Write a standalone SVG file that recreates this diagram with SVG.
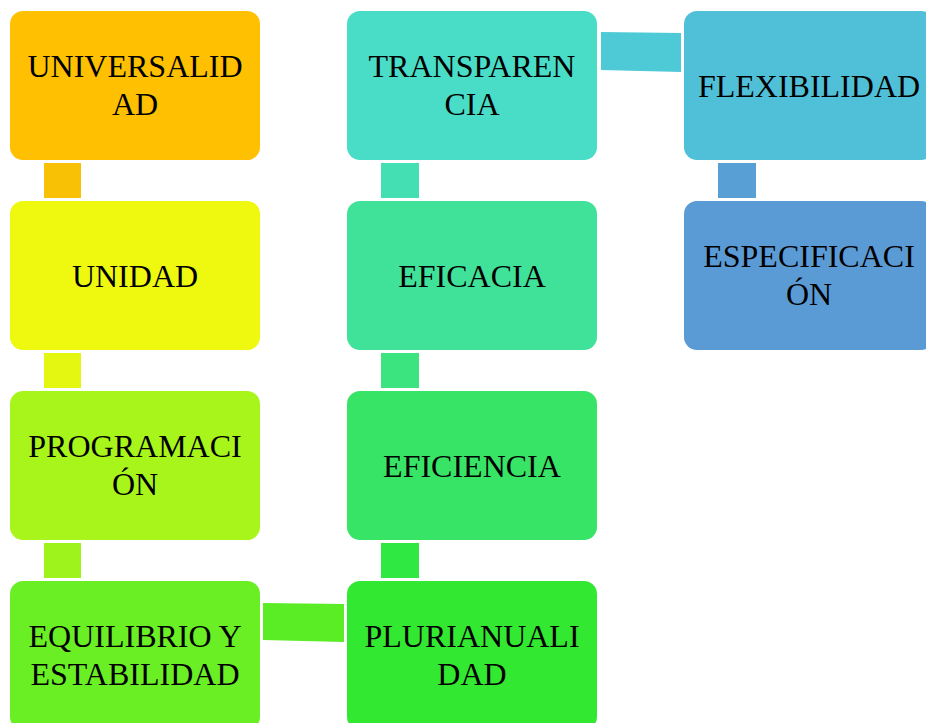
<svg xmlns="http://www.w3.org/2000/svg" width="926" height="723" viewBox="0 0 926 723">
<style>
.box{stroke:none}
.t{font-family:"Liberation Serif","Times New Roman",serif;font-size:32px;fill:#000;text-anchor:middle}
</style>
<rect width="926" height="723" fill="#fff"/>
<g id="connectors">
<rect x="44" y="163" width="37" height="35" fill="#F9C106"/>
<rect x="44" y="353" width="37" height="35" fill="#E4F711"/>
<rect x="44" y="543" width="37" height="35" fill="#9EF31D"/>
<polygon points="263,603 344,604 344,642 263,640" fill="#5AED26"/>
<rect x="381" y="543" width="38" height="35" fill="#30E842"/>
<rect x="381" y="353" width="38" height="35" fill="#3BE47E"/>
<rect x="381" y="163" width="38" height="35" fill="#45DFB4"/>
<polygon points="601,32 681,33 681,72 601,70" fill="#4ECAD6"/>
<rect x="718" y="163" width="38" height="35" fill="#589FD5"/>
</g>
<g id="n1"><rect class="box" x="10" y="11" width="250" height="149" rx="13" fill="#FEC000"/>
<text class="t" x="135" y="77">UNIVERSALID</text><text class="t" x="135" y="115">AD</text></g>
<g id="n2"><rect class="box" x="10" y="201" width="250" height="149" rx="13" fill="#EEF90F"/>
<text class="t" x="135" y="287">UNIDAD</text></g>
<g id="n3"><rect class="box" x="10" y="391" width="250" height="149" rx="13" fill="#A8F51B"/>
<text class="t" x="135" y="457">PROGRAMACI</text><text class="t" x="135" y="495">ÓN</text></g>
<g id="n4"><rect class="box" x="10" y="581" width="250" height="149" rx="13" fill="#6AEE24"/>
<text class="t" x="135" y="647">EQUILIBRIO Y</text><text class="t" x="135" y="685">ESTABILIDAD</text></g>
<g id="n5"><rect class="box" x="347" y="581" width="250" height="149" rx="13" fill="#33E830"/>
<text class="t" x="472" y="647">PLURIANUALI</text><text class="t" x="472" y="685">DAD</text></g>
<g id="n6"><rect class="box" x="347" y="391" width="250" height="149" rx="13" fill="#38E466"/>
<text class="t" x="472" y="477">EFICIENCIA</text></g>
<g id="n7"><rect class="box" x="347" y="201" width="250" height="149" rx="13" fill="#40E29A"/>
<text class="t" x="472" y="287">EFICACIA</text></g>
<g id="n8"><rect class="box" x="347" y="11" width="250" height="149" rx="13" fill="#49DDC8"/>
<text class="t" x="472" y="77">TRANSPAREN</text><text class="t" x="472" y="115">CIA</text></g>
<g id="n9"><rect class="box" x="684" y="11" width="250" height="149" rx="13" fill="#50C0D8"/>
<text class="t" x="809" y="97">FLEXIBILIDAD</text></g>
<g id="n10"><rect class="box" x="684" y="201" width="250" height="149" rx="13" fill="#5B9BD5"/>
<text class="t" x="809" y="267">ESPECIFICACI</text><text class="t" x="809" y="305">ÓN</text></g>
</svg>
